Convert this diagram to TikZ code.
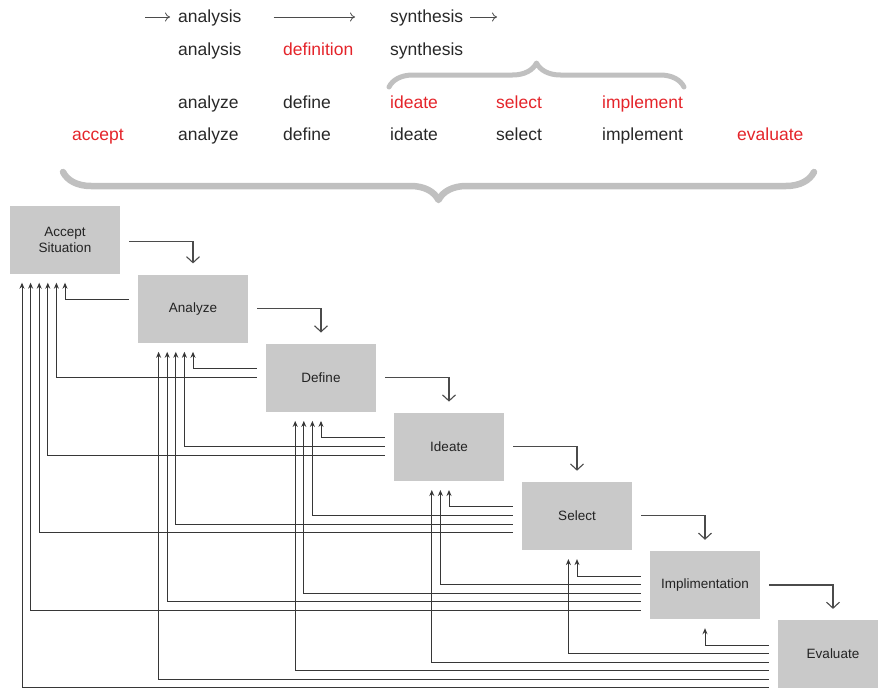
\documentclass[tikz,border=0pt]{standalone}
\usepackage{fontspec}
\setmainfont{Liberation Sans}
\usepackage{tikz}
\usetikzlibrary{arrows.meta,calc,decorations.pathreplacing}
\usepackage{xcolor}
\definecolor{stagegray}{RGB}{201,201,201}
\definecolor{stagetext}{RGB}{35,35,35}
\definecolor{wordblack}{RGB}{40,40,40}
\definecolor{wordred}{RGB}{228,36,42}
\definecolor{bracegray}{RGB}{192,192,192}
\definecolor{linegray}{RGB}{55,55,55}
\definecolor{fwdgray}{RGB}{75,75,75}

\begin{document}
\begin{tikzpicture}[x=1pt,y=-1pt,
  stage/.style={fill=stagegray,minimum width=110pt,minimum height=68pt,align=center,
              text=stagetext,font=\fontsize{13.5}{16}\selectfont},
  word/.style={anchor=base west,inner sep=0pt,text=wordblack,font=\fontsize{17.5}{20}\selectfont},
  hot/.style={word,text=wordred},
  cmarr/.style={draw=fwdgray,line width=0.8pt,-{Computer Modern Rightarrow[length=5pt,width=9pt]}},
  fwd/.style={draw=fwdgray,line width=1.1pt,-{Straight Barb[length=6pt,width=13pt]}},
  back/.style={draw=linegray,line width=1pt,-{Stealth[length=6pt,width=5pt]}},
  brc/.style={draw=bracegray,line cap=round,line join=round,decorate,decoration={brace,amplitude=#1}}]
  \useasboundingbox (0,0) rectangle (878,688);
  % top rows of words
  \coordinate (p0) at (145,17);
  \coordinate (p1) at (170,17);
  \coordinate (p2) at (497,17);
  \node[word](a1) at (178,23) {analysis};
  \node[word](s1) at (390,23) {synthesis};
  \draw[cmarr](p0)--(p1);
  \draw[cmarr,shorten <=32pt,shorten >=35pt](a1.east |- p0)--(s1.west |- p0);
  \draw[cmarr,shorten <=7pt](s1.east |- p0)--(p2);
  \node[word](a2) at (178,55) {analysis};
  \node[hot](d2) at (283,55) {definition};
  \node[word](s2) at (390,55) {synthesis};
  \node[word](a3) at (178,108) {analyze};
  \node[word](d3) at (283,108) {define};
  \node[hot](i3) at (390,108) {ideate};
  \node[hot](l3) at (496,108) {select};
  \node[hot](m3) at (602,108) {implement};
  \node[hot](c4) at (72,140) {accept};
  \node[word](a4) at (178,140) {analyze};
  \node[word](d4) at (283,140) {define};
  \node[word](i4) at (390,140) {ideate};
  \node[word](l4) at (496,140) {select};
  \node[word](m4) at (602,140) {implement};
  \node[hot](e4) at (737,140) {evaluate};
  % braces
  \draw[brc=24pt,line width=5pt](389,87)--(684,87);
  \draw[brc=28pt,line width=6.5pt](814,172)--(63,172);
  % stages
  \node[stage](n0) at (65,239.5) {Accept\\Situation};
  \node[stage](n1) at (193,308.6) {Analyze};
  \node[stage](n2) at (321,377.7) {Define};
  \node[stage](n3) at (449,446.8) {Ideate};
  \node[stage](n4) at (577,515.9) {Select};
  \node[stage](n5) at (705,585) {Implimentation};
  \node[stage](n6) at (833,654.1) {Evaluate};
  % forward flow
  \draw[fwd]([xshift=9pt,yshift=-2pt]n0.east)-|([yshift=11pt]n1.north);
  \draw[fwd]([xshift=9pt]n1.east)-|([yshift=11pt]n2.north);
  \draw[fwd]([xshift=9pt]n2.east)-|([yshift=11pt]n3.north);
  \draw[fwd]([xshift=9pt]n3.east)-|([yshift=11pt]n4.north);
  \draw[fwd]([xshift=9pt]n4.east)-|([yshift=11pt]n5.north);
  \draw[fwd]([xshift=9pt]n5.east)-|([yshift=11pt]n6.north);
  % feedback to earlier stages
  \draw[back]([xshift=-9pt,yshift=9pt]n1.west)-|([yshift=-9pt]n0.south);
  \draw[back]([xshift=-9pt,yshift=9pt]n2.west)-|([yshift=-9pt]n1.south);
  \draw[back]([xshift=-9pt,yshift=0.4pt]n2.west)-|([xshift=-8.6pt,yshift=-9pt]n0.south);
  \draw[back]([xshift=-9pt,yshift=9pt]n3.west)-|([yshift=-9pt]n2.south);
  \draw[back]([xshift=-9pt,yshift=0.4pt]n3.west)-|([xshift=-8.6pt,yshift=-9pt]n1.south);
  \draw[back]([xshift=-9pt,yshift=-8.2pt]n3.west)-|([xshift=-17.2pt,yshift=-9pt]n0.south);
  \draw[back]([xshift=-9pt,yshift=9pt]n4.west)-|([yshift=-9pt]n3.south);
  \draw[back]([xshift=-9pt,yshift=0.4pt]n4.west)-|([xshift=-8.6pt,yshift=-9pt]n2.south);
  \draw[back]([xshift=-9pt,yshift=-8.2pt]n4.west)-|([xshift=-17.2pt,yshift=-9pt]n1.south);
  \draw[back]([xshift=-9pt,yshift=-16.8pt]n4.west)-|([xshift=-25.8pt,yshift=-9pt]n0.south);
  \draw[back]([xshift=-9pt,yshift=9pt]n5.west)-|([yshift=-9pt]n4.south);
  \draw[back]([xshift=-9pt,yshift=0.4pt]n5.west)-|([xshift=-8.6pt,yshift=-9pt]n3.south);
  \draw[back]([xshift=-9pt,yshift=-8.2pt]n5.west)-|([xshift=-17.2pt,yshift=-9pt]n2.south);
  \draw[back]([xshift=-9pt,yshift=-16.8pt]n5.west)-|([xshift=-25.8pt,yshift=-9pt]n1.south);
  \draw[back]([xshift=-9pt,yshift=-25.4pt]n5.west)-|([xshift=-34.4pt,yshift=-9pt]n0.south);
  \draw[back]([xshift=-9pt,yshift=9pt]n6.west)-|([yshift=-9pt]n5.south);
  \draw[back]([xshift=-9pt,yshift=0.4pt]n6.west)-|([xshift=-8.6pt,yshift=-9pt]n4.south);
  \draw[back]([xshift=-9pt,yshift=-8.2pt]n6.west)-|([xshift=-17.2pt,yshift=-9pt]n3.south);
  \draw[back]([xshift=-9pt,yshift=-16.8pt]n6.west)-|([xshift=-25.8pt,yshift=-9pt]n2.south);
  \draw[back]([xshift=-9pt,yshift=-25.4pt]n6.west)-|([xshift=-34.4pt,yshift=-9pt]n1.south);
  \draw[back]([xshift=-9pt,yshift=-33pt]n6.west)-|([xshift=-43pt,yshift=-9pt]n0.south);
\end{tikzpicture}
\end{document}
